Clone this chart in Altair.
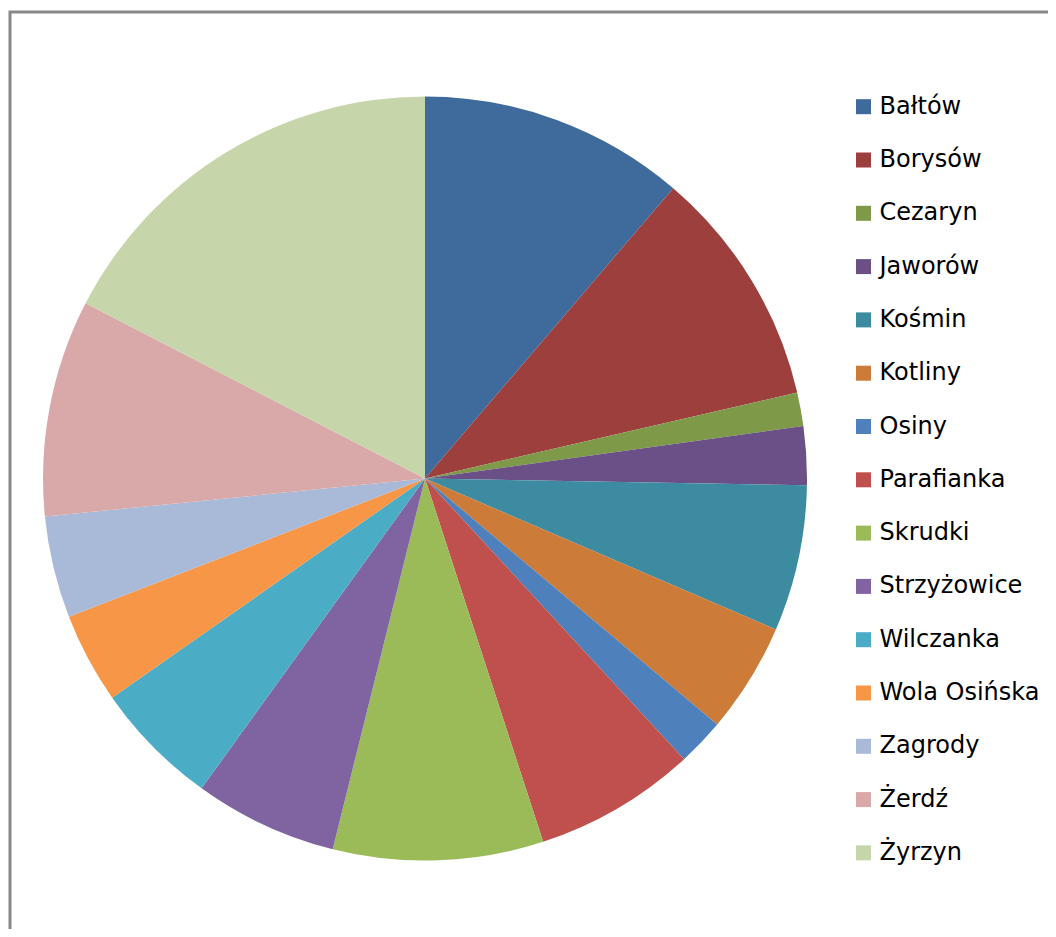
import altair as alt
import pandas as pd

categories = ["Bałtów", "Borysów", "Cezaryn", "Jaworów", "Kośmin", "Kotliny", "Osiny",
              "Parafianka", "Skrudki", "Strzyżowice", "Wilczanka", "Wola Osińska",
              "Zagrody", "Żerdź", "Żyrzyn"]
values = [11.26, 10.13, 1.42, 2.47, 6.19, 4.67, 2.00, 6.86, 8.89, 6.06, 5.33, 3.83,
          4.31, 9.17, 17.42]
colors = ["#3F6A9C", "#9C3F3D", "#7E9A48", "#6A5086", "#3D8BA1", "#CC7B38", "#4E80BC",
          "#C0504D", "#9BBB59", "#8064A2", "#4BACC6", "#F79646", "#A9BAD8", "#D9A9A9",
          "#C6D6AA"]

df = pd.DataFrame({"name": categories, "value": values, "idx": list(range(len(categories)))})

chart = alt.Chart(df).mark_arc(
    radius=382, x=415, y=466.5, strokeWidth=0
).encode(
    theta=alt.Theta("value:Q", stack=True),
    order=alt.Order("idx:Q"),
    color=alt.Color(
        "name:N",
        sort=None,
        scale=alt.Scale(domain=categories, range=colors),
        legend=alt.Legend(
            title=None,
            orient="none",
            legendX=841.5,
            legendY=82.7,
            symbolType="square",
            symbolSize=225,
            symbolStrokeWidth=0,
            labelFont="DejaVu Sans",
            labelFontSize=24,
            labelColor="#000000",
            labelOffset=4,
            rowPadding=29.3,
            padding=0,
            labelLimit=300,
        ),
    ),
).properties(
    width=1046,
    height=925,
    padding={"left": 2, "top": 4, "right": -8, "bottom": -8},
    autosize=alt.AutoSizeParams(type="none"),
    background="white",
    view=alt.ViewBackground(stroke="#888888", strokeWidth=3, fill="white"),
)

chart.save("out.html", embed_options={"renderer": "svg", "actions": False})
